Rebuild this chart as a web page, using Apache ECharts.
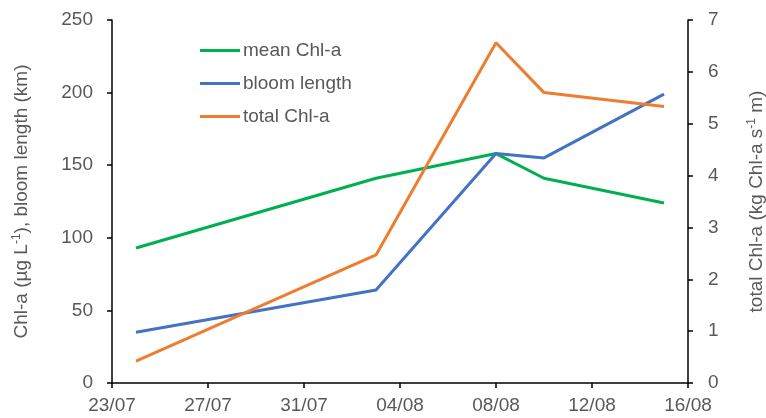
<!DOCTYPE html>
<html>
<head>
<meta charset="utf-8">
<script src="https://cdn.jsdelivr.net/npm/echarts@6/dist/echarts.min.js"></script>
<style>
  html, body { margin: 0; padding: 0; background: #fff; }
  #chart { width: 766px; height: 418px; }
</style>
</head>
<body>
<div id="chart"></div>
<script>
// x axis runs from 23/07 to 16/08, as days since 23/07
var startDate = "2019-07-23";
var tickLabels = ["23/07", "27/07", "31/07", "04/08", "08/08", "12/08", "16/08"];

var sampleDates = ["2019-07-24", "2019-08-03", "2019-08-08", "2019-08-10", "2019-08-15"];
var meanChl = [93, 141, 158, 141, 124];
var bloomLength = [35, 64, 158, 155, 199];
var totalChl = [0.42, 2.47, 6.56, 5.6, 5.33];

var DAY = 86400000;
function dayOffset(d) {
  return Math.round((new Date(d) - new Date(startDate)) / DAY);
}
function pairs(vals) {
  return sampleDates.map(function (d, i) { return [dayOffset(d), vals[i]]; });
}

var grey = "#595959";
var font = "Liberation Sans, Arial, sans-serif";
var nameStyle = {
  color: grey, fontSize: 19, fontFamily: font,
  rich: {
    sup: { color: grey, fontSize: 12, fontFamily: font, padding: [0, 0, 9, 0] }
  }
};

var chart = echarts.init(document.getElementById("chart"));

var option = {
  backgroundColor: "#fff",
  animation: false,
  textStyle: { fontFamily: font },
  grid: { left: 112, right: 78, top: 20, bottom: 35, containLabel: false, outerBoundsMode: "none" },
  legend: {
    orient: "vertical",
    left: 195,
    top: 36,
    icon: "rect",
    itemWidth: 40,
    itemHeight: 3,
    itemGap: 14,
    textStyle: { color: grey, fontSize: 19, fontFamily: font, padding: [0, 0, 0, -2] },
    data: ["mean Chl-a", "bloom length", "total Chl-a"]
  },
  xAxis: {
    type: "value",
    min: 0,
    max: 24,
    interval: 4,
    splitLine: { show: false },
    axisLine: { lineStyle: { color: "#000", width: 1.5 } },
    axisTick: { length: 5, lineStyle: { color: "#000", width: 1.5 } },
    axisLabel: {
      color: grey, fontSize: 19, margin: 13,
      formatter: function (v) { return tickLabels[v / 4]; }
    }
  },
  yAxis: [
    {
      type: "value",
      min: 0,
      max: 250,
      interval: 50,
      name: "Chl-a (µg L{sup|-1}), bloom length (km)",
      nameLocation: "middle",
      nameGap: 80,
      nameTextStyle: nameStyle,
      splitLine: { show: false },
      axisLine: { show: true, lineStyle: { color: "#000", width: 1.5 } },
      axisTick: { show: true, length: 5, lineStyle: { color: "#000", width: 1.5 } },
      axisLabel: { color: grey, fontSize: 19, margin: 19 }
    },
    {
      type: "value",
      min: 0,
      max: 7,
      interval: 1,
      position: "right",
      name: "total Chl-a (kg Chl-a s{sup|-1} m)",
      nameLocation: "middle",
      nameGap: 58,
      nameRotate: 90,
      nameTextStyle: nameStyle,
      splitLine: { show: false },
      axisLine: { show: true, lineStyle: { color: "#000", width: 1.5 } },
      axisTick: { show: true, length: 5, lineStyle: { color: "#000", width: 1.5 } },
      axisLabel: { color: grey, fontSize: 19, margin: 20 }
    }
  ],
  series: [
    {
      name: "mean Chl-a",
      type: "line",
      yAxisIndex: 0,
      symbol: "none",
      data: pairs(meanChl),
      itemStyle: { color: "#00B050" },
      lineStyle: { color: "#00B050", width: 3 }
    },
    {
      name: "bloom length",
      type: "line",
      yAxisIndex: 0,
      symbol: "none",
      data: pairs(bloomLength),
      itemStyle: { color: "#4472C4" },
      lineStyle: { color: "#4472C4", width: 3 }
    },
    {
      name: "total Chl-a",
      type: "line",
      yAxisIndex: 1,
      symbol: "none",
      data: pairs(totalChl),
      itemStyle: { color: "#ED7D31" },
      lineStyle: { color: "#ED7D31", width: 3 }
    }
  ]
};

chart.setOption(option);
</script>
</body>
</html>
